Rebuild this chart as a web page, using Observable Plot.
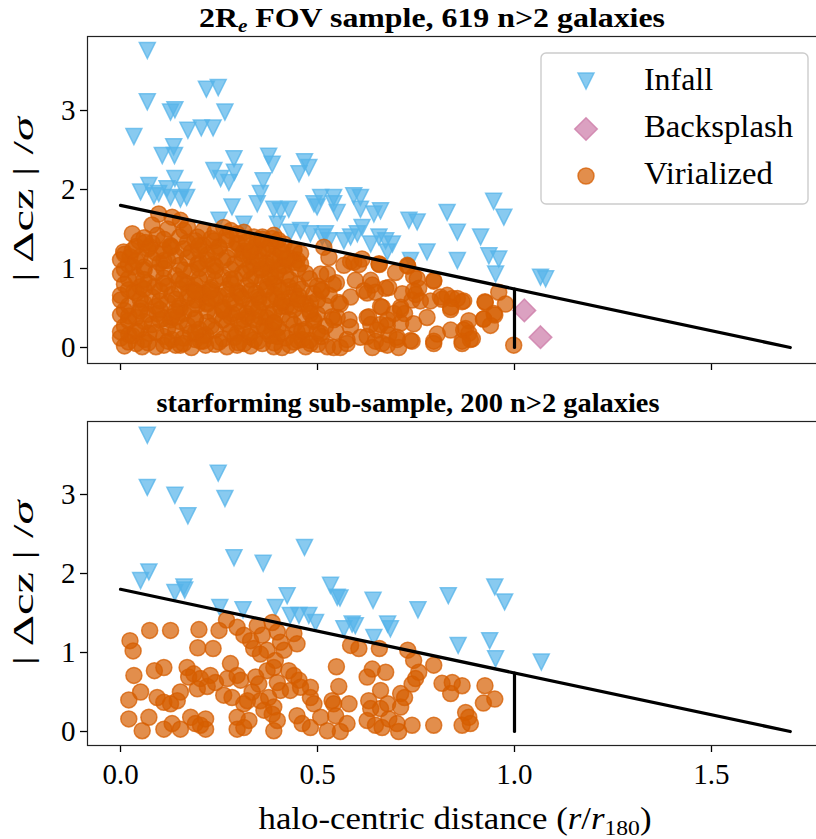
<!DOCTYPE html>
<html><head><meta charset="utf-8">
<script src="https://cdn.jsdelivr.net/npm/d3@7"></script>
<script src="https://cdn.jsdelivr.net/npm/@observablehq/plot@0.6"></script>
<style>
body{margin:0;background:#fff}
#wrap{position:relative;width:816px;height:839px;overflow:hidden;background:#fff}
#wrap > svg, #wrap > div{position:absolute;left:0}
</style>
</head><body><div id="wrap"></div>
<script>
// ---------- data ----------
const xTicks = [0, 0.5, 1.0, 1.5];
const yTicks = [0, 1, 2, 3];
const boundary = [[0, 1.8], [1.7, 0]];
const r180Line = [[1.0, 0], [1.0, 0.74]];

// top panel: infall (all galaxies)
const infallAll = [[0.068,3.76],[0.068,3.11],[0.034,2.67],[0.127,2.98],[0.138,3.01],[0.218,3.27],[0.248,3.29],[0.265,2.98],[0.171,2.75],[0.205,2.78],[0.235,2.78],[0.106,2.43],[0.135,2.54],[0.137,2.43],[0.237,2.24],[0.254,2.14],[0.275,2.09],[0.288,2.39],[0.289,2.22],[0.376,2.42],[0.385,2.32],[0.362,2.11],[0.355,1.95],[0.467,2.35],[0.478,2.28],[0.453,2.20],[0.051,1.97],[0.072,2.05],[0.097,1.95],[0.118,2.01],[0.138,2.14],[0.161,1.99],[0.168,1.90],[0.508,1.90],[0.541,1.90],[0.592,1.92],[0.609,1.90],[0.947,1.85],[0.085,1.92],[0.127,1.90],[0.152,1.88],[0.283,1.78],[0.347,1.82],[0.389,1.75],[0.406,1.73],[0.427,1.75],[0.491,1.82],[0.250,1.61],[0.313,1.56],[0.398,1.56],[0.431,1.46],[0.457,1.48],[0.482,1.44],[0.512,1.40],[0.529,1.35],[0.499,1.78],[0.541,1.82],[0.550,1.71],[0.609,1.75],[0.643,1.69],[0.660,1.73],[0.732,1.61],[0.753,1.59],[0.829,1.71],[0.855,1.46],[0.914,1.40],[0.973,1.65],[0.520,1.44],[0.567,1.35],[0.584,1.40],[0.601,1.44],[0.613,1.52],[0.635,1.31],[0.656,1.40],[0.673,1.35],[0.690,1.31],[0.677,1.21],[0.736,1.10],[0.778,1.21],[0.855,1.10],[0.935,1.16],[0.960,1.12],[0.952,0.93],[1.066,0.89],[1.079,0.87]];
const backsplashAll = [[1.025,0.47],[1.066,0.13]];

// starforming sub-sample
const infallSF = [[0.068,3.75],[0.068,3.09],[0.138,2.99],[0.171,2.73],[0.248,3.27],[0.265,2.95],[0.288,2.20],[0.362,2.13],[0.467,2.33],[0.051,1.91],[0.072,2.02],[0.138,1.76],[0.161,1.83],[0.163,1.79],[0.252,1.57],[0.311,1.54],[0.393,1.57],[0.423,1.72],[0.431,1.47],[0.453,1.47],[0.478,1.47],[0.495,1.38],[0.533,1.85],[0.550,1.70],[0.557,1.69],[0.567,1.30],[0.588,1.36],[0.596,1.34],[0.641,1.66],[0.643,1.19],[0.678,1.36],[0.685,1.30],[0.755,1.54],[0.832,1.72],[0.857,1.09],[0.937,1.15],[0.950,1.83],[0.975,1.64],[0.952,0.92],[1.068,0.88]];
const virializedSF = [[0.024,1.15],[0.032,1.02],[0.074,1.28],[0.127,1.28],[0.199,1.29],[0.196,1.06],[0.235,1.05],[0.250,1.28],[0.269,1.41],[0.296,1.32],[0.313,1.22],[0.330,1.15],[0.347,1.34],[0.360,1.22],[0.338,1.05],[0.355,0.98],[0.372,1.03],[0.385,1.38],[0.398,1.26],[0.406,1.13],[0.393,0.90],[0.415,1.03],[0.448,1.11],[0.440,1.24],
[0.034,0.71],[0.086,0.77],[0.110,0.81],[0.169,0.81],[0.173,0.69],[0.186,0.73],[0.203,0.67],[0.228,0.71],[0.241,0.62],[0.271,0.67],[0.279,0.86],[0.296,0.71],[0.305,0.65],[0.343,0.69],[0.351,0.60],[0.372,0.77],[0.389,0.81],[0.398,0.62],[0.427,0.77],[0.440,0.71],[0.453,0.65],[0.482,0.56],
[0.021,0.40],[0.051,0.50],[0.093,0.43],[0.110,0.37],[0.127,0.35],[0.144,0.39],[0.152,0.50],[0.195,0.54],[0.220,0.57],[0.262,0.46],[0.283,0.43],[0.313,0.35],[0.322,0.39],[0.334,0.50],[0.355,0.39],[0.376,0.43],[0.389,0.31],[0.406,0.52],[0.431,0.52],[0.457,0.56],[0.482,0.43],[0.491,0.35],
[0.021,0.16],[0.072,0.18],[0.055,0.01],[0.110,0.03],[0.131,0.10],[0.152,0.03],[0.178,0.18],[0.190,0.10],[0.203,0.08],[0.216,0.16],[0.216,0.03],[0.296,0.18],[0.296,0.03],[0.313,0.05],[0.326,0.14],[0.364,0.27],[0.385,0.22],[0.389,0.01],[0.398,0.14],[0.448,0.20],[0.461,0.10],[0.482,0.05],[0.508,0.18],[0.525,0.01],
[0.584,1.09],[0.605,1.05],[0.657,1.05],[0.729,1.03],[0.744,0.90],[0.795,0.84],[0.548,0.82],[0.626,0.69],[0.639,0.79],[0.673,0.75],[0.757,0.75],[0.749,0.67],[0.740,0.60],[0.554,0.57],[0.660,0.52],[0.711,0.48],[0.721,0.43],[0.816,0.61],[0.842,0.62],[0.867,0.58],[0.838,0.48],[0.925,0.58],[0.950,0.41],[0.921,0.36],[0.580,0.35],[0.541,0.35],[0.630,0.39],[0.635,0.29],[0.660,0.29],[0.678,0.35],[0.711,0.31],[0.626,0.14],[0.647,0.08],[0.664,0.05],[0.681,0.16],[0.702,0.10],[0.706,0.00],[0.740,0.08],[0.795,0.08],[0.575,0.10],[0.558,0.00],[0.546,0.20],[0.537,0.39],[0.876,0.24],[0.884,0.18],[0.888,0.10],[0.867,0.08]];

// virialized galaxies of the full sample that are not in the starforming sub-sample
const virializedOuter = [[0.097,1.69],[0.131,1.65],[0.152,1.61],[0.030,1.44],[0.047,1.35],[0.008,1.21],[0.063,1.33],[0.093,1.42],[0.110,1.10],[0.127,1.29],[0.161,1.48],[0.195,1.40],[0.237,1.35],[0.262,1.52],[0.296,1.44],[0.313,1.46],[0.338,1.40],[0.360,1.40],[0.389,1.42],[0.415,1.31],[0.440,1.23],[0.457,1.06],[0.525,0.93],
[0.457,1.19],[0.516,1.27],[0.529,1.14],[0.567,1.04],[0.592,1.08],[0.613,1.12],[0.656,1.06],[0.698,0.95],[0.728,1.04],[0.753,0.87],[0.795,0.85],[0.596,0.85],[0.635,0.85],[0.618,0.72],[0.647,0.70],[0.681,0.76],[0.715,0.68],[0.744,0.72],[0.761,0.59],[0.812,0.64],[0.829,0.66],[0.855,0.62],[0.871,0.59],[0.838,0.51],[0.926,0.57],[0.960,0.70],[0.977,0.55],[0.948,0.43],[0.922,0.36],[0.939,0.28],[0.884,0.34],[0.871,0.22],[0.893,0.11],[0.867,0.05],[0.838,0.22],[0.804,0.17],[0.795,0.05],[0.778,0.38],[0.787,0.59],[0.744,0.30],[0.736,0.09],[0.702,0.13],[0.677,0.28],[0.651,0.22],[0.677,0.03],[0.639,0.00],[0.609,0.13],[0.584,0.26],[0.575,0.05],[0.541,0.00],[0.626,0.38],[0.664,0.51],[0.694,0.43],[0.711,0.51],[0.998,0.03],[0.558,0.55],[0.584,0.64],[0.550,0.38],[0.508,0.93],[0.53,0.66],[0.54,0.80],[0.51,0.72]];
const virializedCore1 = [[0.01,0.02],[0.04,0.05],[0.09,0.01],[0.14,0.03],[0.18,0.00],[0.24,0.04],[0.27,0.01],[0.33,0.02],[0.36,0.05],[0.41,0.00],[0.43,0.03],[0.47,0.01],[0.50,0.04],
[0.00,0.12],[0.03,0.15],[0.06,0.10],[0.11,0.14],[0.16,0.12],[0.21,0.15],[0.26,0.11],[0.29,0.13],[0.34,0.10],[0.38,0.15],[0.42,0.12],[0.45,0.09],[0.51,0.14],
[0.01,0.27],[0.05,0.24],[0.08,0.29],[0.12,0.25],[0.17,0.28],[0.20,0.23],[0.23,0.27],[0.27,0.30],[0.31,0.24],[0.35,0.28],[0.40,0.25],[0.44,0.29],[0.47,0.23],[0.52,0.27],
[0.00,0.41],[0.04,0.38],[0.07,0.42],[0.13,0.39],[0.16,0.43],[0.19,0.37],[0.24,0.41],[0.28,0.39],[0.32,0.43],[0.37,0.38],[0.41,0.41],[0.46,0.37],[0.50,0.42],
[0.02,0.53],[0.06,0.56],[0.09,0.52],[0.12,0.57],[0.15,0.53],[0.22,0.55],[0.26,0.51],[0.29,0.56],[0.33,0.54],[0.36,0.57],[0.42,0.52],[0.47,0.55],[0.52,0.53],
[0.00,0.66],[0.04,0.69],[0.08,0.64],[0.13,0.67],[0.17,0.63],[0.21,0.68],[0.25,0.65],[0.30,0.69],[0.35,0.64],[0.39,0.67],[0.43,0.63],[0.49,0.68],
[0.01,0.80],[0.05,0.77],[0.07,0.82],[0.12,0.78],[0.16,0.83],[0.19,0.79],[0.23,0.76],[0.28,0.81],[0.32,0.78],[0.36,0.83],[0.40,0.77],[0.45,0.80],[0.50,0.78],
[0.00,0.93],[0.04,0.90],[0.09,0.95],[0.14,0.91],[0.18,0.96],[0.22,0.92],[0.26,0.89],[0.31,0.94],[0.34,0.90],[0.38,0.95],[0.42,0.91],[0.47,0.94],
[0.02,1.05],[0.06,1.02],[0.10,1.07],[0.15,1.04],[0.20,1.08],[0.24,1.03],[0.29,1.06],[0.33,1.02],[0.37,1.07],[0.41,1.04],[0.44,1.08],
[0.01,1.18],[0.05,1.15],[0.09,1.20],[0.14,1.16],[0.18,1.21],[0.22,1.17],[0.27,1.14],[0.31,1.19],[0.35,1.22],[0.39,1.16],[0.43,1.13],
[0.04,1.28],[0.08,1.32],[0.13,1.27],[0.17,1.33],[0.21,1.29],[0.25,1.26],[0.30,1.31],[0.34,1.27],[0.38,1.30]];
const virializedCore2 = [[0.02,0.07],[0.07,0.06],[0.12,0.08],[0.16,0.05],[0.21,0.08],[0.25,0.07],[0.30,0.06],[0.35,0.08],[0.39,0.06],[0.44,0.07],[0.48,0.09],
[0.00,0.20],[0.04,0.21],[0.09,0.19],[0.14,0.21],[0.19,0.19],[0.24,0.22],[0.28,0.20],[0.33,0.19],[0.37,0.21],[0.41,0.19],[0.46,0.21],[0.50,0.20],
[0.02,0.34],[0.06,0.33],[0.10,0.35],[0.15,0.33],[0.19,0.35],[0.22,0.32],[0.26,0.35],[0.30,0.33],[0.34,0.35],[0.39,0.32],[0.43,0.35],[0.49,0.33],
[0.01,0.47],[0.05,0.46],[0.10,0.48],[0.14,0.46],[0.18,0.49],[0.22,0.46],[0.26,0.48],[0.30,0.46],[0.35,0.48],[0.39,0.46],[0.44,0.48],[0.48,0.47],
[0.00,0.60],[0.05,0.61],[0.10,0.59],[0.14,0.61],[0.19,0.60],[0.23,0.62],[0.28,0.59],[0.31,0.62],[0.38,0.60],[0.41,0.58],[0.45,0.61],[0.50,0.60],
[0.02,0.73],[0.06,0.74],[0.10,0.72],[0.15,0.74],[0.19,0.71],[0.23,0.73],[0.27,0.74],[0.33,0.72],[0.37,0.74],[0.41,0.72],[0.46,0.74],[0.51,0.73],
[0.02,0.87],[0.06,0.86],[0.11,0.88],[0.15,0.86],[0.20,0.87],[0.24,0.85],[0.29,0.87],[0.33,0.86],[0.38,0.88],[0.43,0.86],[0.48,0.87],
[0.01,0.99],[0.06,0.98],[0.11,1.00],[0.16,0.98],[0.20,1.00],[0.24,0.97],[0.28,0.99],[0.32,0.98],[0.36,1.00],[0.40,0.98],[0.45,1.00],
[0.00,1.11],[0.04,1.10],[0.08,1.12],[0.12,1.10],[0.17,1.13],[0.22,1.11],[0.26,1.10],[0.31,1.12],[0.35,1.11],[0.39,1.10],[0.42,1.12],
[0.03,1.23],[0.07,1.25],[0.11,1.23],[0.16,1.25],[0.20,1.23],[0.24,1.21],[0.29,1.24],[0.33,1.22],[0.37,1.25],[0.41,1.22],
[0.06,1.39],[0.11,1.37],[0.15,1.40],[0.19,1.35],[0.23,1.38],[0.27,1.36],[0.32,1.34],[0.36,1.37],[0.40,1.36],
[0.08,1.55],[0.12,1.50],[0.17,1.53],[0.21,1.48],[0.24,1.46],[0.28,1.48]];
const virializedAll = virializedSF.concat(virializedOuter, virializedCore1, virializedCore2);

const titles = ["FOV sample, 619 n>2 galaxies", "starforming sub-sample, 200 n>2 galaxies"];
const legendLabels = ["Infall", "Backsplash", "Virialized"];

// ---------- style ----------
const SERIF = "'Liberation Serif','DejaVu Serif',serif";
const BLUE = "#56B4E9", PINK = "#CC79A7", ORANGE = "#D55E00";
const triDown = {draw(ctx, size){ const h = Math.sqrt(size/Math.PI); ctx.moveTo(0, h); ctx.lineTo(-h, -h); ctx.lineTo(h, -h); ctx.closePath(); }};
const diamond = {draw(ctx, size){ const h = Math.sqrt(size/Math.PI)*1.414; ctx.moveTo(0,-h); ctx.lineTo(h,0); ctx.lineTo(0,h); ctx.lineTo(-h,0); ctx.closePath(); }};
const mk = (c) => ({fill: c, fillOpacity: 0.7, stroke: c, strokeOpacity: 0.75, strokeWidth: 1.5});

function panel({infall, backs, vir, height, marginTop, marginBottom, yDomain, labels}) {
  return Plot.plot({
    width: 816, height, marginLeft: 87, marginRight: -7, marginTop, marginBottom,
    x: {domain: [-0.0838, 1.7843]},
    y: {domain: yDomain},
    style: {fontFamily: SERIF, fontSize: "29px", color: "#000", background: "transparent", overflow: "hidden"},
    marks: [
      Plot.axisY({ticks: yTicks, tickSize: 7, tickPadding: 5, label: null, tickFormat: d => String(d), strokeWidth: 1.3}),
      Plot.axisX({ticks: xTicks, tickSize: 7, tickPadding: 11, label: null, tickFormat: labels ? d3.format(".1f") : () => "", strokeWidth: 1.3}),
      Plot.dot(infall, {symbol: triDown, r: 8, ...mk(BLUE)}),
      Plot.dot(backs, {symbol: diamond, r: 8, ...mk(PINK)}),
      Plot.dot(vir, {r: 8, ...mk(ORANGE)}),
      Plot.line(boundary, {stroke: "#000", strokeWidth: 3.2}),
      Plot.line(r180Line, {stroke: "#000", strokeWidth: 3.2}),
      Plot.frame({stroke: "#222", strokeWidth: 1.2})
    ]
  });
}

const wrap = document.getElementById("wrap");
const top1 = panel({infall: infallAll, backs: backsplashAll, vir: virializedAll, height: 400, marginTop: 36, marginBottom: 37, yDomain: [-0.2025, 3.937], labels: false});
top1.style.top = "0px";
wrap.appendChild(top1);
const bot = panel({infall: infallSF, backs: [], vir: virializedSF, height: 439, marginTop: 21, marginBottom: 94, yDomain: [-0.177, 3.924], labels: true});
bot.style.top = "400px";
wrap.appendChild(bot);

// ---------- overlay texts & legend ----------
const NS = "http://www.w3.org/2000/svg";
const ov = document.createElementNS(NS, "svg");
ov.setAttribute("width", 816); ov.setAttribute("height", 839);
ov.style.top = "0px"; ov.style.fontFamily = SERIF;
const esc = s => s.replace(/>/g, "&gt;");
ov.innerHTML = `
<text x="432" y="27" text-anchor="middle" font-weight="bold" font-size="27" textLength="466" lengthAdjust="spacingAndGlyphs">2R<tspan font-size="18" font-style="italic" dy="5">e</tspan><tspan dy="-5"> ${esc(titles[0])}</tspan></text>
<text x="408" y="412" text-anchor="middle" font-weight="bold" font-size="27" textLength="503" lengthAdjust="spacingAndGlyphs">${esc(titles[1])}</text>
<text x="455" y="829" text-anchor="middle" font-size="31" textLength="393" lengthAdjust="spacingAndGlyphs">halo-centric distance (<tspan font-style="italic">r</tspan>/<tspan font-style="italic">r</tspan><tspan font-size="21" dy="6">180</tspan><tspan dy="-6">)</tspan></text>
<text transform="translate(33,199.5) rotate(-90)" text-anchor="middle" font-size="30" textLength="165" lengthAdjust="spacingAndGlyphs">| Δcz | /<tspan font-style="italic">σ</tspan></text>
<text transform="translate(33,583) rotate(-90)" text-anchor="middle" font-size="30" textLength="165" lengthAdjust="spacingAndGlyphs">| Δcz | /<tspan font-style="italic">σ</tspan></text>
<rect x="541" y="53" width="267" height="151" rx="5" fill="#fff" fill-opacity="0.8" stroke="#cccccc" stroke-width="1.4"/>
<path d="M586,89 L578,73 L594,73 Z" fill="${BLUE}" fill-opacity="0.7" stroke="${BLUE}" stroke-opacity="0.75" stroke-width="1.5"/>
<path d="M586,117.7 L597.3,129 L586,140.3 L574.7,129 Z" fill="${PINK}" fill-opacity="0.7" stroke="${PINK}" stroke-opacity="0.75" stroke-width="1.5"/>
<circle cx="586" cy="176" r="8" fill="${ORANGE}" fill-opacity="0.7" stroke="${ORANGE}" stroke-opacity="0.75" stroke-width="1.5"/>
<text x="644" y="90" font-size="31" textLength="69" lengthAdjust="spacingAndGlyphs">${legendLabels[0]}</text>
<text x="644" y="137" font-size="31" textLength="149" lengthAdjust="spacingAndGlyphs">${legendLabels[1]}</text>
<text x="644" y="184" font-size="31" textLength="129" lengthAdjust="spacingAndGlyphs">${legendLabels[2]}</text>
`;
wrap.appendChild(ov);
</script>
</body></html>
